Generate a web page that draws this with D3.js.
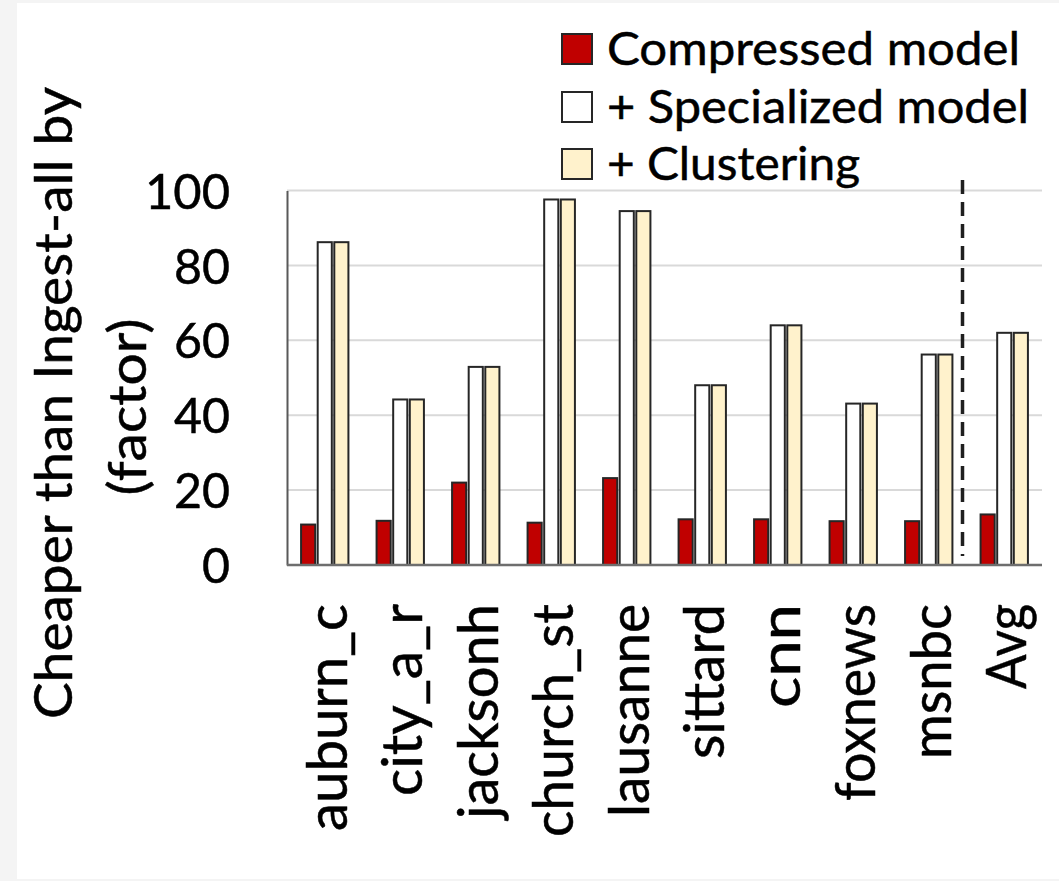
<!DOCTYPE html>
<html>
<head>
<meta charset="utf-8">
<script src="https://cdn.jsdelivr.net/npm/d3@7"></script>
<style>
  html, body { margin: 0; padding: 0; background: #f4f4f4; }
  svg { display: block; }
  text { font-family: "Lato", "Liberation Sans", sans-serif; fill: #000; stroke: #000; stroke-width: 0.5px; }
</style>
</head>
<body>
<svg id="chart" width="1059" height="881"></svg>
<script>
// Cost savings relative to ingesting all frames, per video stream
const categories = ["auburn_c", "city_a_r", "jacksonh", "church_st", "lausanne",
                    "sittard", "cnn", "foxnews", "msnbc", "Avg"];
const compressedModel  = [10.8, 11.8, 22.0, 11.3, 23.2, 12.2, 12.2, 11.7, 11.7, 13.5];
const specializedModel = [86.2, 44.2, 52.9, 97.6, 94.5, 48.0, 64.0, 43.1, 56.2, 62.0];
const withClustering   = [86.2, 44.2, 52.9, 97.6, 94.5, 48.0, 64.0, 43.1, 56.2, 62.0];
const seriesNames  = ["Compressed model", "+ Specialized model", "+ Clustering"];
const seriesColors = ["#c00000", "#ffffff", "#fff2cc"];
const yTicks = [0, 20, 40, 60, 80, 100];
const yTitle = ["Cheaper than Ingest-all by", "(factor)"];

const seriesValues = [compressedModel, specializedModel, withClustering];
const rows = categories.map((c, i) => ({
  category: c,
  values: seriesNames.map((s, j) => ({ series: s, value: seriesValues[j][i], color: seriesColors[j] }))
}));

const svg = d3.select("#chart");
const W = 1059, H = 881;
const plot = { left: 287, right: 1042, top: 190.5, bottom: 565 };

// rendered lengths of the rotated category labels (narrow face)
const labelLengths = { auburn_c: 227, city_a_r: 192, jacksonh: 215, church_st: 233, lausanne: 213,
                       sittard: 155, cnn: 104, foxnews: 197, msnbc: 155, Avg: 85 };

// page background panel
svg.append("rect").attr("x", 17).attr("y", 3).attr("width", W - 17).attr("height", H - 5).attr("fill", "#ffffff");

function fitTo(sel, target) {
  sel.attr("textLength", target).attr("lengthAdjust", "spacingAndGlyphs");
}

const x0 = d3.scaleBand().domain(categories).range([plot.left, plot.right])
  .paddingInner(0.373).paddingOuter(0.1865);
const x1 = d3.scaleBand().domain(seriesNames).range([0, x0.bandwidth()]).paddingInner(0.15);
const y = d3.scaleLinear().domain([0, 100]).range([plot.bottom, plot.top]);

// gridlines
svg.append("g").selectAll("line").data(yTicks.filter(t => t > 0)).join("line")
  .attr("x1", plot.left).attr("x2", plot.right)
  .attr("y1", d => y(d)).attr("y2", d => y(d))
  .attr("stroke", "#d9d9d9").attr("stroke-width", 2);

// bars
const groups = svg.append("g").selectAll("g").data(rows).join("g")
  .attr("transform", d => `translate(${x0(d.category)},0)`);
groups.selectAll("rect").data(d => d.values).join("rect")
  .attr("x", d => x1(d.series))
  .attr("width", x1.bandwidth())
  .attr("y", d => y(d.value))
  .attr("height", d => y(0) - y(d.value))
  .attr("fill", d => d.color)
  .attr("stroke", "#262626").attr("stroke-width", 2);

// y axis
const yAxis = svg.append("g").attr("transform", `translate(${plot.left},0)`)
  .call(d3.axisLeft(y).tickValues(yTicks).tickSize(0).tickPadding(57));
yAxis.select(".domain").attr("stroke", "#595959").attr("stroke-width", 2);
yAxis.selectAll("text").style("font-family", "Lato").style("font-size", "49px")
  .attr("fill", "#000").attr("dy", "0.36em")
  .each(function (d) { fitTo(d3.select(this), d === 100 ? 85 : d === 0 ? 28 : 56); });

// baseline
svg.append("line").attr("x1", plot.left).attr("x2", plot.right)
  .attr("y1", y(0)).attr("y2", y(0)).attr("stroke", "#6e6e6e").attr("stroke-width", 2.5);

// category labels, rotated
svg.append("g").selectAll("text").data(categories).join("text")
  .attr("transform", d => `translate(${x0(d) + x0.bandwidth() / 2 + 22},604) rotate(-90)`)
  .attr("text-anchor", "end")
  .style("font-size", "56px")
  .text(d => d)
  .each(function (d) { fitTo(d3.select(this), labelLengths[d]); });

// separator before the average
const sepX = (x0("msnbc") + x0.bandwidth() + x0("Avg")) / 2 - 4;
svg.append("line").attr("x1", sepX).attr("x2", sepX).attr("y1", 180).attr("y2", 556)
  .attr("stroke", "#1f1f1f").attr("stroke-width", 3.5).attr("stroke-dasharray", "14,8");

// y axis title
const t1 = svg.append("text").attr("transform", "translate(72,403) rotate(-90)")
  .attr("text-anchor", "middle").style("font-size", "53px").text(yTitle[0]);
fitTo(t1, 632);
const t2 = svg.append("text").attr("transform", "translate(146,407) rotate(-90)")
  .attr("text-anchor", "middle").style("font-size", "53px").text(yTitle[1]);
fitTo(t2, 177);

// legend
const legendBaselines = [65, 123, 180];
const legendWidths = [413, 422, 253];
const lg = svg.append("g").selectAll("g").data(seriesNames).join("g")
  .attr("transform", (d, i) => `translate(0,${legendBaselines[i]})`);
lg.append("rect").attr("x", 562).attr("y", -31).attr("width", 30).attr("height", 30)
  .attr("fill", (d, i) => seriesColors[i]).attr("stroke", "#262626").attr("stroke-width", 2);
lg.append("text").attr("x", 607).attr("y", 0).style("font-size", "46px").text(d => d)
  .each(function (d, i) { fitTo(d3.select(this), legendWidths[i]); });
</script>
</body>
</html>
